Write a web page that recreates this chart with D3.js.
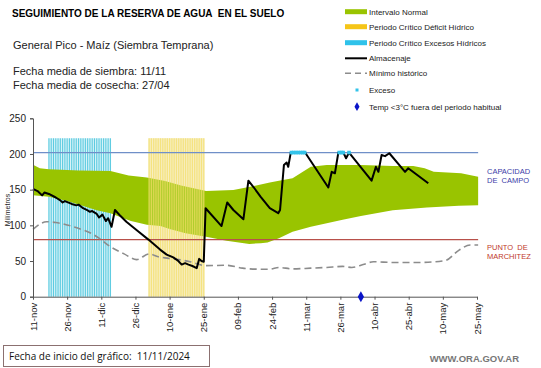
<!DOCTYPE html>
<html><head><meta charset="utf-8">
<script src="https://cdn.jsdelivr.net/npm/d3@7"></script>
<style>body{margin:0;background:#fff;} svg{display:block;font-family:"Liberation Sans",Arial,sans-serif;}</style>
</head><body>
<script>
// ---- data ----
const tickDays = [0,15,30,45,60,75,90,105,120,135,150,165,180,195];
const tickLabels = ["11-nov","26-nov","11-dic","26-dic","10-ene","25-ene","09-feb","24-feb","11-mar","26-mar","10-abr","25-abr","10-may","25-may"];
const yTicks = [0,50,100,150,200,250];

const bandDays  = [0,3,7,20,34,42,50,58,65,72,76,88,97,104,108,114,118,122,129,144,158,167,172,176,182,188,195.5];
const bandUpper = [185,180,178.5,177,176,170,167,162,156,151,148,149.5,155,160,162.5,166,174,182,184.5,184.5,183,183,180,175,174,173,168];
const lowDays  = [0,7,15,21,28,34,38,43,50,56,60,67,76,85,95,100,103,108,114,122,129,136,144,158,173,187,195.5];
const bandLower = [142,140,134,128,121,117,112,106,101,99,95,89,84,78.5,74,75,76,82,91,98,103,108,113,121,125,127.5,128];

const minDays = [0,6,10,15,22,26,29,34,40,45.5,51,55,59,64,69,76,85,92,100,104,108,114,122,129,136,140,145,149.5,158,170,181,187,192,195.5];
const minVals = [94.5,105,104,100.5,93.5,88,82,70,60,52,60,56,54,52,49,43.5,44,40,38.5,38.5,41,39,40,41,42.5,41,45,49,48,48,50.5,65,72.5,72.5];

const almDays = [0,2,4,5,7,10,12,13,14,17,19,20,22,24,25,26,28,29,30.5,32,33,34.5,36,38,41,46,50.7,55.8,58.7,61.6,63.5,65.3,66.8,68.3,70,71.9,73,74,75,75.8,82.8,85.3,88,92.4,94.6,97,100,104,107.7,108.5,110.2,111.4,112.1,113.2,119.5,129.7,131.2,132.6,134.1,136.3,137.5,138.8,148.7,150.6,151.7,153.1,154.6,156.5,163.4,164.8,173.6];
const almVals = [151,148,142,146,144,139,135,132,134,130,128,129,124,121,119,120,116,111,115,106,110,98,121.5,114.5,105,92,80,66,59,55,51,45,47,45,43,40,53,50,49,124,99,132,121.5,108.5,162.6,153,140,124,117,121.5,184.5,188,182,202,202,153,175,173,202,202,194,202,162.6,182,175,198.6,197,201,175,180,159];

const excesoDays = [113.5,114.5,115.5,116.5,117.5,118.5,119.3,134.5,135.5,136.2,138.8];
const excesoVals = [202,202,202,202,202,202,202,202,202,202,202];

const cyanDays = d3.range(7,35);     // Periodo crítico excesos hídricos
const yellowDays = d3.range(51,76);  // Periodo crítico déficit hídrico
const barTop = 222;

const capacidad = 202, marchitez = 80;
const frioDay = 144;

const legendItems = ["Intervalo Normal","Periodo Crítico Déficit Hídrico","Periodo Crítico Excesos Hídricos","Almacenaje","Mínimo histórico","Exceso","Temp <3°C fuera del periodo habitual"];

// ---- drawing ----
const W=541,H=368;
const svg=d3.select("body").append("svg").attr("width",W).attr("height",H);
const x=d3.scaleLinear().domain([0,195]).range([33,477]);
const y=d3.scaleLinear().domain([0,250]).range([296.7,118.3]);
const dw = x(1)-x(0);

const green="#99c400";

// cyan bars (behind band)
const gC=svg.append("g");
gC.append("rect").attr("x",x(cyanDays[0])-dw*0.3).attr("y",y(barTop))
  .attr("width",x(cyanDays[cyanDays.length-1])-x(cyanDays[0])+dw*0.6).attr("height",y(0)-y(barTop)).attr("fill","#d8f3f8");
gC.selectAll("rect.b").data(cyanDays).join("rect").attr("class","b")
  .attr("x",d=>x(d)-0.55).attr("width",1.1).attr("y",y(barTop)).attr("height",y(0)-y(barTop)).attr("fill","#5ccbe0");

// yellow bars background
svg.append("rect").attr("x",x(yellowDays[0])-dw*0.3).attr("y",y(barTop))
  .attr("width",x(yellowDays[yellowDays.length-1])-x(yellowDays[0])+dw*0.6).attr("height",y(0)-y(barTop)).attr("fill","#f8f0c6");

// band
const upperPts = bandDays.map((d,i)=>[x(d),y(bandUpper[i])]);
const lowerPts = lowDays.map((d,i)=>[x(d),y(bandLower[i])]).reverse();
svg.append("path").attr("d","M"+upperPts.map(p=>p.join(",")).join("L")+"L"+lowerPts.map(p=>p.join(",")).join("L")+"Z")
  .attr("fill",green);

// yellow stripes on top
svg.append("g").selectAll("rect").data(yellowDays).join("rect")
  .attr("x",d=>x(d)-0.6).attr("width",1.2).attr("y",y(barTop)).attr("height",y(0)-y(barTop))
  .attr("fill","#f1d84c").attr("opacity",0.7);
svg.append("rect").attr("x",x(yellowDays[0])-dw*0.3).attr("y",y(barTop))
  .attr("width",x(yellowDays[yellowDays.length-1])-x(yellowDays[0])+dw*0.6).attr("height",y(0)-y(barTop)).attr("fill","#f7ecb0").attr("opacity",0.25);

// horizontal reference lines
svg.append("line").attr("x1",x(0)).attr("x2",x(195.5)).attr("y1",y(capacidad)).attr("y2",y(capacidad)).attr("stroke","#6f8fc8").attr("stroke-width",1.2);
svg.append("line").attr("x1",x(0)).attr("x2",x(195.5)).attr("y1",y(marchitez)).attr("y2",y(marchitez)).attr("stroke","#b8504a").attr("stroke-width",1.2);

// minimo historico
svg.append("path").attr("d",d3.line().curve(d3.curveMonotoneX)(minDays.map((d,i)=>[x(d),y(minVals[i])])))
  .attr("fill","none").attr("stroke","#8c8c8c").attr("stroke-width",1.6).attr("stroke-dasharray","7,4");

// almacenaje
svg.append("path").attr("d",d3.line()(almDays.map((d,i)=>[x(d),y(almVals[i])])))
  .attr("fill","none").attr("stroke","#000").attr("stroke-width",2).attr("stroke-linejoin","round");

// exceso
svg.append("g").selectAll("rect").data(excesoDays).join("rect")
  .attr("x",d=>x(d)-1.8).attr("y",(d,i)=>y(excesoVals[i])-1.8).attr("width",3.6).attr("height",3.6).attr("fill","#33c3ea");

// axes
const yAxis=d3.axisLeft(y).tickValues(yTicks).tickSize(3).tickPadding(4);
const gy=svg.append("g").attr("transform","translate(33,0)").call(yAxis);
gy.select(".domain").attr("stroke","#555");
gy.selectAll(".tick line").attr("stroke","#555");
gy.selectAll("text").attr("font-size",10).attr("fill","#222").attr("font-family","Liberation Sans, Arial");

const xAxis=d3.axisBottom(x).tickValues(tickDays).tickFormat((d,i)=>tickLabels[i]).tickSize(3).tickSizeOuter(0);
const gx=svg.append("g").attr("transform","translate(0,"+y(0)+")").call(xAxis);
gx.select(".domain").attr("stroke","#555");
gx.selectAll(".tick line").attr("stroke","#555");
gx.selectAll("text").attr("font-size",9.5).attr("fill","#222").attr("font-family","Liberation Sans, Arial")
  .attr("transform","rotate(-90)").attr("text-anchor","end").attr("dx","-6").attr("dy","0.32em").attr("y",0).attr("x",0);

// frost diamond
svg.append("path").attr("d",d3.symbol(d3.symbolDiamond,34)()).attr("transform","translate("+x(frioDay)+","+y(0)+")").attr("fill","#0a14c8");

// y label
svg.append("text").attr("transform","translate(10,210) rotate(-90)").attr("text-anchor","middle").attr("font-size",7).attr("fill","#222").text("Milímetros");

// right labels
const rl=svg.append("g").attr("font-size",7.5);
rl.append("text").attr("x",487).attr("y",173.5).attr("fill","#3c3ca8").text("CAPACIDAD");
rl.append("text").attr("x",487).attr("y",182.5).attr("fill","#3c3ca8").attr("xml:space","preserve").text("DE  CAMPO");
rl.append("text").attr("x",487).attr("y",250).attr("fill","#c0392b").attr("xml:space","preserve").text("PUNTO  DE");
rl.append("text").attr("x",487).attr("y",258.5).attr("fill","#c0392b").text("MARCHITEZ");

// titles
svg.append("text").attr("x",12).attr("y",17).attr("font-size",10).attr("font-weight","bold").attr("fill","#000").attr("xml:space","preserve").text("SEGUIMIENTO DE LA RESERVA DE AGUA  EN EL SUELO");
svg.append("text").attr("x",13).attr("y",48.5).attr("font-size",11).attr("fill","#222").text("General Pico - Maíz (Siembra Temprana)");
svg.append("text").attr("x",13).attr("y",74.5).attr("font-size",11).attr("fill","#222").text("Fecha media de siembra: 11/11");
svg.append("text").attr("x",13).attr("y",88.5).attr("font-size",11).attr("fill","#222").text("Fecha media de cosecha: 27/04");

// legend
const ly=[11.7,26.7,42.7,58.3,73.3,90,106.7];
const lg=svg.append("g");
lg.append("rect").attr("x",345).attr("y",ly[0]-2.5).attr("width",22).attr("height",5).attr("fill",green);
lg.append("rect").attr("x",345).attr("y",ly[1]-2.5).attr("width",22).attr("height",5).attr("fill","#f5c518");
lg.append("rect").attr("x",345).attr("y",ly[2]-2.5).attr("width",22).attr("height",5).attr("fill","#2fc2ea");
lg.append("line").attr("x1",345).attr("x2",367).attr("y1",ly[3]).attr("y2",ly[3]).attr("stroke","#000").attr("stroke-width",2);
lg.append("line").attr("x1",345).attr("x2",367).attr("y1",ly[4]).attr("y2",ly[4]).attr("stroke","#8c8c8c").attr("stroke-width",1.6).attr("stroke-dasharray","6,4");
lg.append("rect").attr("x",355.5).attr("y",ly[5]-1.5).attr("width",3).attr("height",3).attr("fill","#33c3ea");
lg.append("path").attr("d",d3.symbol(d3.symbolDiamond,22)()).attr("transform","translate(357,"+ly[6]+")").attr("fill","#0a14c8");
lg.selectAll("text").data(legendItems).join("text").attr("x",369).attr("y",(d,i)=>ly[i]+3).attr("font-size",8).attr("fill","#222").text(d=>d);

// footer
svg.append("rect").attr("x",3.5).attr("y",345.5).attr("width",206).attr("height",21).attr("fill","#fff").attr("stroke","#8b7070").attr("stroke-width",1);
svg.append("text").attr("x",9).attr("y",360).attr("font-size",10).attr("font-family","Open Sans, Liberation Sans").attr("fill","#111").attr("xml:space","preserve").text("Fecha de inicio del gráfico:  11/11/2024");
svg.append("text").attr("x",519).attr("y",362).attr("text-anchor","end").attr("font-size",9.5).attr("font-weight","bold").attr("fill","#777").text("WWW.ORA.GOV.AR");
</script>
</body></html>
